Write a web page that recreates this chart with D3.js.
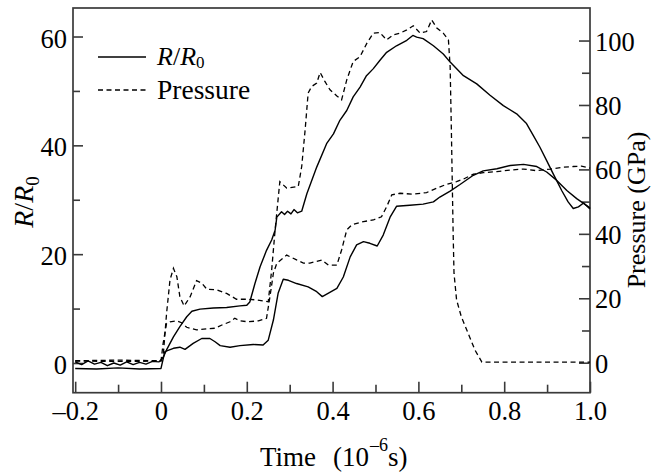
<!DOCTYPE html>
<html><head><meta charset="utf-8">
<script src="https://cdn.jsdelivr.net/npm/d3@7"></script>
<style>
body{margin:0;background:#fff}
svg{display:block}
text{font-family:"Liberation Serif","Times New Roman",serif;fill:#000}
</style>
</head><body>
<svg id="c" width="652" height="472"></svg>
<script>
// ---- tick values ----
const xTicks = [-0.2, 0, 0.2, 0.4, 0.6, 0.8, 1.0];
const xMinor = [-0.1, 0.1, 0.3, 0.5, 0.7, 0.9];
const leftTicks = [0, 20, 40, 60];
const leftMinor = [10, 30, 50];
const rightTicks = [0, 20, 40, 60, 80, 100];
const rightMinor = [10, 30, 50, 70, 90];

// ---- series: R/R0 (solid), experiment 1 ----
const r1Time = [-0.2,-0.185,-0.17,-0.155,-0.14,-0.125,-0.11,-0.095,-0.08,-0.065,-0.05,-0.035,-0.02,-0.005,
  0.005,0.013,0.029,0.044,0.06,0.072,0.091,0.122,0.153,0.184,0.2,0.207,0.219,0.231,0.246,0.258,0.266,0.27,0.281,0.288,0.295,0.303,0.31,0.318,0.328,
  0.34,0.363,0.386,0.402,0.417,0.433,0.448,0.464,0.479,0.495,0.51,0.526,0.549,0.573,0.587,0.596,0.611,0.635,0.658,0.674,
  0.705,0.736,0.767,0.798,0.829,0.852,0.868,0.883,0.899,0.914,0.934,0.949,0.961,0.973,0.985,1.0];
const r1Val = [0.2,-0.3,0.4,-0.2,0.1,-0.5,0.0,-0.4,0.2,-0.3,0.1,-0.2,0.3,0.2,
  1.0,2.4,4.8,6.7,8.5,9.5,9.9,10.1,10.2,10.5,10.6,11.2,14.6,17.7,20.7,22.6,24.4,26.8,27.8,27.3,27.9,27.4,28.2,27.6,27.9,
  31.1,36.0,40.3,42.1,44.6,46.4,48.9,50.7,52.8,54.1,55.6,57.1,58.3,59.3,60.2,59.9,59.6,58.3,56.8,55.3,
  52.8,51.3,49.2,47.3,45.8,44.0,41.8,39.7,37.2,34.8,31.7,29.6,28.4,28.7,29.4,28.3];

// ---- series: R/R0 (solid), experiment 2 ----
const r2Time = [-0.2,-0.15,-0.1,-0.05,0.0,0.009,0.029,0.044,0.056,0.075,0.095,0.114,0.126,0.138,0.161,0.184,0.215,0.238,0.25,
  0.262,0.273,0.285,0.297,0.316,0.343,0.363,0.376,0.41,0.425,0.441,0.456,0.472,0.487,0.504,0.518,0.534,0.549,0.58,0.611,
  0.635,0.65,0.674,0.697,0.728,0.751,0.783,0.814,0.845,0.876,0.899,0.922,0.946,0.969,1.0];
const r2Val = [-1.0,-1.1,-0.9,-1.1,-1.0,2.1,2.7,2.9,2.5,3.6,4.5,4.5,3.9,3.2,2.9,3.2,3.4,3.3,4.2,
  7.9,12.8,15.4,15.2,14.6,14.0,13.1,12.2,13.7,15.8,19.5,21.7,22.3,22.0,21.5,23.5,26.8,28.8,29.0,29.2,
  29.6,30.5,31.6,32.8,34.5,35.3,35.7,36.3,36.5,36.1,35.1,33.6,31.7,30.2,28.5];

// ---- series: Pressure (dashed), experiment 1 ----
const p1Time = [-0.2,-0.1,0.0,0.005,0.013,0.021,0.029,0.037,0.044,0.054,0.068,0.083,0.095,0.107,0.13,0.153,0.176,0.2,0.223,0.25,
  0.258,0.266,0.277,0.293,0.32,0.328,0.336,0.343,0.351,0.363,0.371,0.382,0.394,0.41,0.421,0.433,0.448,0.464,0.48,0.495,0.51,
  0.526,0.542,0.557,0.573,0.588,0.604,0.619,0.631,0.643,0.658,0.67,0.674,0.677,0.681,0.683,0.689,0.7,0.716,0.732,0.748,1.0];
const p1Val = [0.6,0.8,0.6,1.9,15.3,25.7,29.3,26.7,20.5,17.6,20.5,25.5,24.7,22.8,22.6,21.5,19.7,19.7,19.5,18.9,
  28.8,41.2,56.2,54.2,54.7,60.9,72.3,83.7,85.7,86.8,90.1,87.3,84.7,82.8,81.6,87.8,93.5,95.0,99.2,102.3,102.5,
  100.2,101.8,102.3,103.3,104.6,102.3,102.8,106.4,103.9,102.3,100.2,91.9,71.2,40.2,27.8,19.5,14.3,9.1,3.9,0.2,0.2];

// ---- series: Pressure (dashed), experiment 2 ----
const p2Time = [-0.2,-0.1,0.0,0.005,0.013,0.021,0.037,0.048,0.06,0.083,0.107,0.126,0.142,0.161,0.172,0.184,0.203,0.227,0.246,
  0.254,0.262,0.27,0.293,0.316,0.332,0.347,0.375,0.39,0.41,0.421,0.433,0.445,0.472,0.495,0.514,0.526,0.538,0.557,0.588,
  0.619,0.643,0.666,0.689,0.705,0.728,0.751,0.783,0.814,0.845,0.876,0.907,0.938,0.961,0.98,1.0];
const p2Val = [0.5,0.4,0.5,6.0,12.2,12.7,13.0,12.4,11.0,10.2,10.5,10.7,11.7,12.7,13.8,13.0,12.7,13.0,13.8,
  20.5,27.8,30.9,33.4,31.9,30.9,30.9,31.9,30.3,30.3,35.0,41.2,42.8,43.8,44.3,45.3,48.4,52.1,52.6,52.3,
  52.8,54.2,55.4,56.2,57.0,58.5,59.0,59.3,59.8,60.1,59.6,60.1,60.7,60.9,61.0,60.4];

const svg = d3.select("#c");
const L = 73, R = 590, T = 8, B = 392.7;
const x = d3.scaleLinear().domain([-0.2051, 1.0]).range([L, R]);
const yL = d3.scaleLinear().domain([-5.46, 65.24]).range([B, T]);
const yR = d3.scaleLinear().domain([-9.31, 110.1]).range([B, T]);

const FS = 26.5;
const axisColor = "#3a3a3a";
const fmtX = d => d === 0 ? "0" : (d < 0 ? "\u2013" : "") + Math.abs(d).toFixed(1);

function styleAxis(g){
  g.select(".domain").remove();
  g.selectAll(".tick line").attr("stroke", axisColor).attr("stroke-width", 1.6);
  g.selectAll(".tick text").attr("font-size", FS).attr("font-family", "Liberation Serif").attr("fill", "#000");
}

// bottom axis
svg.append("g").attr("transform", `translate(0,${B})`)
  .call(d3.axisBottom(x).tickValues(xTicks).tickFormat(fmtX).tickSizeInner(-11).tickSizeOuter(0).tickPadding(8))
  .call(styleAxis);
svg.append("g").attr("transform", `translate(0,${B})`)
  .call(d3.axisBottom(x).tickValues(xMinor).tickFormat("").tickSizeInner(-8).tickSizeOuter(0))
  .call(styleAxis);

// left axis
svg.append("g").attr("transform", `translate(${L},0)`)
  .call(d3.axisLeft(yL).tickValues(leftTicks).tickSizeInner(-10).tickSizeOuter(0).tickPadding(6))
  .call(styleAxis)
  .call(g => g.selectAll(".tick text").attr("dy", "0.4em"));
svg.append("g").attr("transform", `translate(${L},0)`)
  .call(d3.axisLeft(yL).tickValues(leftMinor).tickFormat("").tickSizeInner(-7).tickSizeOuter(0))
  .call(styleAxis);

// right axis
svg.append("g").attr("transform", `translate(${R},0)`)
  .call(d3.axisRight(yR).tickValues(rightTicks).tickSizeInner(-11).tickSizeOuter(0).tickPadding(5))
  .call(styleAxis)
  .call(g => g.selectAll(".tick text").attr("dy", "0.36em"));
svg.append("g").attr("transform", `translate(${R},0)`)
  .call(d3.axisRight(yR).tickValues(rightMinor).tickFormat("").tickSizeInner(-8).tickSizeOuter(0))
  .call(styleAxis);

// frame
svg.append("rect").attr("x", L).attr("y", T).attr("width", R - L).attr("height", B - T)
  .attr("fill", "none").attr("stroke", axisColor).attr("stroke-width", 1.7);

// lines
const zip = (a, b) => a.map((v, i) => [v, b[i]]);
const lineL = d3.line().x(d => x(d[0])).y(d => yL(d[1]));
const lineR = d3.line().x(d => x(d[0])).y(d => yR(d[1]));
const dash = "5,3.5";

svg.append("path").datum(zip(r1Time, r1Val)).attr("d", lineL)
  .attr("fill", "none").attr("stroke", "#000").attr("stroke-width", 1.4).attr("stroke-linejoin", "round");
svg.append("path").datum(zip(r2Time, r2Val)).attr("d", lineL)
  .attr("fill", "none").attr("stroke", "#000").attr("stroke-width", 1.4).attr("stroke-linejoin", "round");
svg.append("path").datum(zip(p1Time, p1Val)).attr("d", lineR)
  .attr("fill", "none").attr("stroke", "#000").attr("stroke-width", 1.3).attr("stroke-dasharray", dash);
svg.append("path").datum(zip(p2Time, p2Val)).attr("d", lineR)
  .attr("fill", "none").attr("stroke", "#000").attr("stroke-width", 1.3).attr("stroke-dasharray", dash);

// legend
const lg = svg.append("g");
lg.append("line").attr("x1", 98).attr("x2", 146).attr("y1", 57).attr("y2", 57)
  .attr("stroke", "#000").attr("stroke-width", 1.4);
lg.append("line").attr("x1", 98).attr("x2", 146).attr("y1", 90).attr("y2", 90)
  .attr("stroke", "#000").attr("stroke-width", 1.3).attr("stroke-dasharray", dash);
const lt1 = lg.append("text").attr("x", 157).attr("y", 65).attr("font-size", 26);
lt1.append("tspan").attr("font-style", "italic").text("R");
lt1.append("tspan").text("/");
lt1.append("tspan").attr("font-style", "italic").text("R");
lt1.append("tspan").attr("font-size", 17).attr("dy", 3).text("0");
lg.append("text").attr("x", 157).attr("y", 98.5).attr("font-size", 27.5).text("Pressure");

// left axis title
const yt = svg.append("text").attr("transform", "translate(33,202) rotate(-90)")
  .attr("text-anchor", "middle").attr("font-size", 28);
yt.append("tspan").attr("font-style", "italic").text("R");
yt.append("tspan").text("/");
yt.append("tspan").attr("font-style", "italic").text("R");
yt.append("tspan").attr("font-size", 19).attr("dy", 6).text("0");

// right axis title
svg.append("text").attr("transform", "translate(645,210) rotate(-90)")
  .attr("text-anchor", "middle").attr("font-size", 26)
  .text("Pressure (GPa)");

// x axis title
const xt = svg.append("text").attr("x", 260).attr("y", 466).attr("font-size", 27);
xt.append("tspan").text("Time");
xt.append("tspan").attr("x", 333).text("(10");
xt.append("tspan").attr("x", 370).attr("dy", -15).attr("font-size", 18).text("\u2013" + "6");
xt.append("tspan").attr("x", 388).attr("dy", 15).text("s)");
</script>
</body></html>
